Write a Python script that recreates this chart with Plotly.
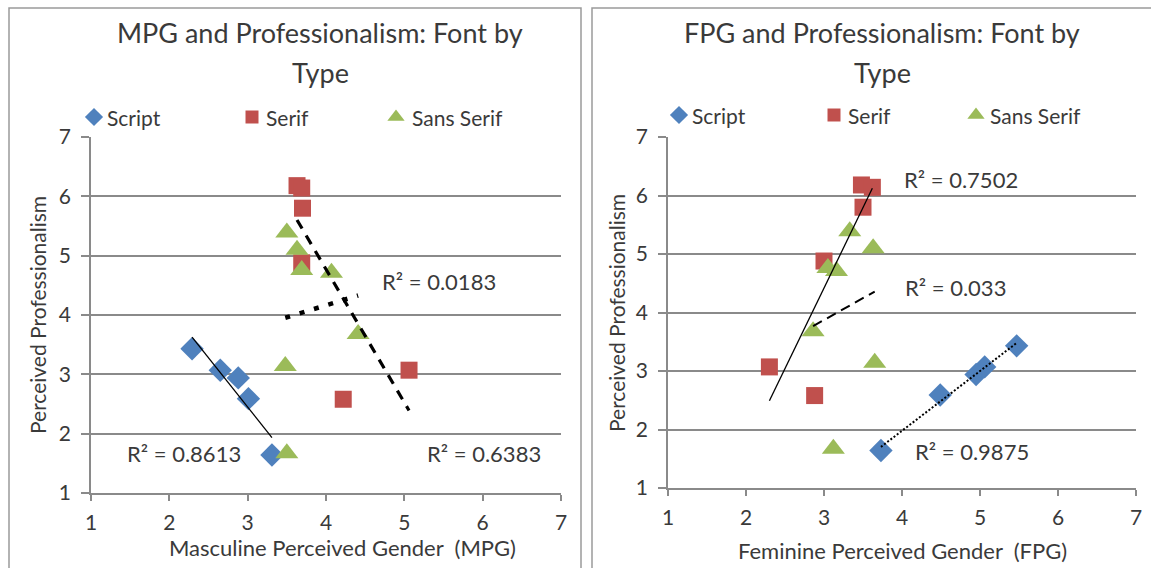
import numpy as np
import plotly.graph_objects as go

# ---- data ----
series_names = ["Script", "Serif", "Sans Serif"]

prof_script = [3.43, 3.07, 2.94, 2.59, 1.64]
mpg_script = [2.29, 2.65, 2.88, 3.01, 3.31]
fpg_script = [5.47, 5.06, 4.95, 4.49, 3.73]

prof_serif = [6.18, 6.14, 5.80, 4.88, 3.07, 2.58]
mpg_serif = [3.63, 3.69, 3.70, 3.69, 5.06, 4.22]
fpg_serif = [3.48, 3.62, 3.50, 3.00, 2.30, 2.88]

prof_sans = [5.39, 5.10, 4.76, 4.71, 3.68, 3.14, 1.67]
mpg_sans = [3.50, 3.63, 3.69, 4.07, 4.41, 3.48, 3.50]
fpg_sans = [3.33, 3.63, 3.05, 3.16, 2.86, 3.65, 3.12]

r2_mpg = ["R² = 0.8613", "R² = 0.6383", "R² = 0.0183"]
r2_fpg = ["R² = 0.9875", "R² = 0.7502", "R² = 0.033"]

tick_vals = [1, 2, 3, 4, 5, 6, 7]
titles = ["MPG and Professionalism: Font by", "FPG and Professionalism: Font by"]
title_line2 = "Type"
x_titles = ["Masculine Perceived Gender  (MPG)", "Feminine Perceived Gender  (FPG)"]
y_title = "Perceived Professionalism"

# ---- styles ----
FONT = "Lato"
TXT = "#3a3a3a"
BLUE, RED, GREEN = "#4f81bd", "#c0504d", "#9bbb59"
GRID = "#8a8a8a"
W, H = 1151, 568


def px_x(p):
    return p / W


def px_y(p):
    return 1 - p / H


fig = go.Figure()

marker_styles = [
    dict(symbol="diamond", color=BLUE, size=18),
    dict(symbol="square", color=RED, size=17),
    dict(symbol="triangle-up", color=GREEN, size=20),
]
legend_marker_styles = [
    dict(symbol="diamond", color=BLUE, size=14),
    dict(symbol="square", color=RED, size=13),
    dict(symbol="triangle-up", color=GREEN, size=15),
]


def add_trend(xs, ys, xa, ya, dash, width):
    xs = np.array(xs)
    ys = np.array(ys)
    b, a = np.polyfit(xs, ys, 1)
    xx = np.array([xs.min(), xs.max()])
    fig.add_trace(go.Scatter(x=xx, y=a + b * xx, mode="lines", xaxis=xa, yaxis=ya,
                             line=dict(color="black", width=width, dash=dash),
                             showlegend=False, hoverinfo="skip"))


panels = [
    ("x", "y", [mpg_script, mpg_serif, mpg_sans]),
    ("x2", "y2", [fpg_script, fpg_serif, fpg_sans]),
]
profs = [prof_script, prof_serif, prof_sans]

for xa, ya, xs_list in panels:
    for name, xs, ys, ms in zip(series_names, xs_list, profs, marker_styles):
        fig.add_trace(go.Scatter(x=xs, y=ys, mode="markers", name=name, xaxis=xa, yaxis=ya,
                                 showlegend=False, marker=dict(line=dict(width=0), **ms)))

# trendlines, left panel
add_trend(mpg_script, prof_script, "x", "y", "solid", 1.3)
add_trend(mpg_serif, prof_serif, "x", "y", "10px,8px", 3.2)
add_trend(mpg_sans, prof_sans, "x", "y", "5px,10px", 4.5)
# trendlines, right panel
add_trend(fpg_script, prof_script, "x2", "y2", "2px,2px", 2)
add_trend(fpg_serif, prof_serif, "x2", "y2", "solid", 1.3)
add_trend(fpg_sans, prof_sans, "x2", "y2", "10px,6px", 2)

# manual legends drawn on a full-page pixel axis (x3/y3)
legend_rows = [
    ([94, 252, 396], 117, [105, 264, 410]),
    ([679, 834, 976], 115, [690, 846, 988]),
]
ann = []
for mx, my, tx in legend_rows:
    for i, (name, lms) in enumerate(zip(series_names, legend_marker_styles)):
        fig.add_trace(go.Scatter(x=[mx[i]], y=[my], mode="markers", xaxis="x3", yaxis="y3",
                                 showlegend=False, hoverinfo="skip", cliponaxis=False,
                                 marker=dict(line=dict(width=0), **lms)))
        ann.append(dict(x=tx[i], y=my, xref="x3", yref="y3", text=name, showarrow=False,
                        xanchor="left", yanchor="middle", font=dict(family=FONT, size=21, color=TXT)))

axis_common = dict(range=[1, 7], tickvals=tick_vals, showline=True, linecolor=GRID, linewidth=1.5,
                   ticks="outside", tickcolor=GRID, tickwidth=1.5, zeroline=False, automargin=False,
                   tickfont=dict(family=FONT, size=21, color=TXT))

fig.update_layout(
    width=W, height=H, autosize=False,
    margin=dict(l=0, r=0, t=0, b=0, pad=0),
    paper_bgcolor="white", plot_bgcolor="rgba(0,0,0,0)",
    showlegend=False,
    xaxis=dict(domain=[px_x(91), px_x(561)], anchor="y", showgrid=False, ticklen=6,
               ticklabelstandoff=4, **axis_common),
    yaxis=dict(domain=[px_y(493), px_y(137)], anchor="x", showgrid=True, gridcolor=GRID,
               gridwidth=1.5, ticklen=8, ticklabelstandoff=6, **axis_common),
    xaxis2=dict(domain=[px_x(668), px_x(1136)], anchor="y2", showgrid=False, ticklen=6,
                ticklabelstandoff=4, **axis_common),
    yaxis2=dict(domain=[px_y(488), px_y(137)], anchor="x2", showgrid=True, gridcolor=GRID,
                gridwidth=1.5, ticklen=8, ticklabelstandoff=6, **axis_common),
    xaxis3=dict(domain=[0, 1], range=[0, W], anchor="y3", visible=False, fixedrange=True),
    yaxis3=dict(domain=[0, 1], range=[H, 0], anchor="x3", visible=False, fixedrange=True),
)

# frames around each chart
fig.add_shape(type="rect", xref="paper", yref="paper", x0=px_x(9), x1=px_x(581), y0=-0.05, y1=px_y(8),
              line=dict(color="#9a9a9a", width=1.5), layer="below")
fig.add_shape(type="rect", xref="paper", yref="paper", x0=px_x(592), x1=px_x(1160), y0=-0.05, y1=px_y(8),
              line=dict(color="#9a9a9a", width=1.5), layer="below")

for cx, t in zip([320, 882], titles):
    ann.append(dict(x=px_x(cx), y=px_y(33), xref="paper", yref="paper", text=t, showarrow=False,
                    xanchor="center", yanchor="middle", font=dict(family=FONT, size=27, color=TXT)))
    ann.append(dict(x=px_x(cx), y=px_y(72), xref="paper", yref="paper", text=title_line2, showarrow=False,
                    xanchor="center", yanchor="middle", font=dict(family=FONT, size=27, color=TXT)))
for cx, cy, t in zip([342, 902], [547, 550], x_titles):
    ann.append(dict(x=px_x(cx), y=px_y(cy), xref="paper", yref="paper", text=t.replace("  ", "&nbsp; "),
                    showarrow=False, xanchor="center", yanchor="middle",
                    font=dict(family=FONT, size=22, color=TXT)))
for cx, cy in zip([37, 616], [315, 313]):
    ann.append(dict(x=px_x(cx), y=px_y(cy), xref="paper", yref="paper", text=y_title, showarrow=False,
                    textangle=-90, xanchor="center", yanchor="middle",
                    font=dict(family=FONT, size=21, color=TXT)))

# R² labels
for (xv, yv), t in zip([(1.43, 1.67), (5.26, 1.66), (4.69, 4.56)], r2_mpg):
    ann.append(dict(x=xv, y=yv, xref="x", yref="y", text=t, showarrow=False, xanchor="left",
                    yanchor="middle", font=dict(family=FONT, size=22, color=TXT)))
for (xv, yv), t in zip([(4.14, 1.62), (4.0, 6.27), (4.01, 4.42)], r2_fpg):
    ann.append(dict(x=xv, y=yv, xref="x2", yref="y2", text=t, showarrow=False, xanchor="left",
                    yanchor="middle", font=dict(family=FONT, size=22, color=TXT)))

fig.update_layout(annotations=ann)

fig.write_html("out.html", config={"displayModeBar": False},
               post_script="document.body.style.margin='0';document.body.style.overflow='hidden';")
